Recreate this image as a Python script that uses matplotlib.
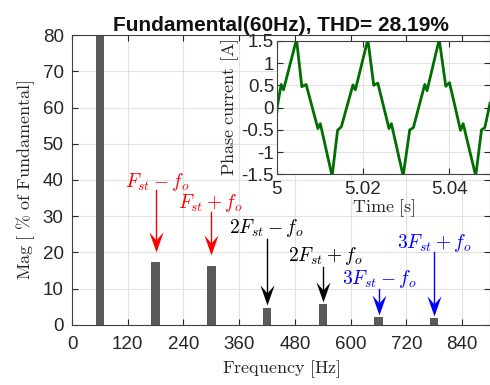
import matplotlib
matplotlib.use('Agg')
import matplotlib.pyplot as plt
from matplotlib.path import Path

plt.rcParams['mathtext.fontset'] = 'cm'
plt.rcParams['font.family'] = ['Liberation Sans', 'DejaVu Sans']
plt.rcParams['axes.unicode_minus'] = False

# ---- data ----
freqs = [60, 180, 300, 420, 540, 660, 780]
mags = [100, 17.5, 16.3, 4.8, 5.7, 2.1, 2.0]

x_ticks = [0, 120, 240, 360, 480, 600, 720, 840]
y_ticks = [0, 10, 20, 30, 40, 50, 60, 70, 80]

t_wave = [5.0000, 5.00010, 5.00100, 5.00155, 5.00437, 5.00451, 5.00465, 5.00580,
          5.00680, 5.00953, 5.01009, 5.01265, 5.01279, 5.01293, 5.01410, 5.01498,
          5.01767, 5.01823, 5.02095, 5.02109, 5.02123, 5.02250, 5.02345, 5.02605,
          5.02660, 5.02916, 5.02930, 5.02944, 5.03086, 5.03170, 5.03435, 5.03488,
          5.03753, 5.03767, 5.03781, 5.03923, 5.04010, 5.04265, 5.04326, 5.04600,
          5.04614, 5.04628, 5.04753, 5.04830, 5.04950]
i_wave = [-0.09, 0.02, 0.52, 0.40, 1.46, 1.50, 1.46, 0.47,
          0.52, -0.47, -0.36, -1.46, -1.50, -1.46, -0.51, -0.43,
          0.51, 0.40, 1.46, 1.50, 1.46, 0.50, 0.55, -0.47,
          -0.36, -1.46, -1.50, -1.46, -0.50, -0.45, 0.52, 0.38,
          1.46, 1.50, 1.46, 0.48, 0.56, -0.51, -0.36, -1.46,
          -1.50, -1.46, -0.50, -0.45, 0.10]

ann_labels = [r"$F_{st}-f_o$", r"$F_{st}+f_o$", r"$2F_{st}-f_o$",
              r"$2F_{st}+f_o$", r"$3F_{st}-f_o$", r"$3F_{st}+f_o$"]
ann_text_x = [183, 298, 419, 545, 662, 779]
ann_text_y = [39.4, 33.6, 26.7, 19.0, 12.6, 22.7]
ann_arrow_x = [180, 300, 420, 540, 660, 780]
ann_start_y = [37.2, 31.3, 23.6, 16.1, 9.8, 20.2]
ann_tip_y = [20.2, 19.3, 5.5, 6.4, 2.8, 2.6]
ann_colors = ['#ff0000', '#ff0000', '#000000', '#000000', '#0000ff', '#0000ff']

ink = '#262626'
grid_c = '#e2e2e2'
tick_fs = 13.5

fig = plt.figure(figsize=(4.9, 3.85), dpi=100)
ax = fig.add_axes([0.147, 0.156, 0.853, 0.753])
ax.bar(freqs, mags, width=18, color='#5a5a5a', zorder=2)
ax.set_xlim(0, 900)
ax.set_ylim(0, 80)
ax.set_xticks(x_ticks)
ax.set_yticks(y_ticks)
ax.set_axisbelow(True)
ax.grid(True, color=grid_c, lw=0.8)
ax.tick_params(direction='in', top=True, right=True, length=4, width=0.8,
               labelsize=tick_fs, colors=ink)
ax.tick_params(axis='y', pad=6)
ax.tick_params(axis='x', pad=8)
for s in ax.spines.values():
    s.set_color('#404040')
    s.set_linewidth(0.8)
ax.set_title("Fundamental(60Hz), THD= 28.19%", fontweight='bold',
             fontsize=15, color='#111111', pad=3)
ax.set_xlabel(r"$\mathrm{Frequency\ [Hz]}$", fontsize=13, color=ink, labelpad=4)
ax.set_ylabel(r"$\mathrm{Mag\ [\ \%\ of\ Fundamental]}$", fontsize=13, color=ink,
              labelpad=4)

head = Path([(0, 0), (-0.35, 1), (0, 0.6), (0.35, 1), (0, 0)],
            [Path.MOVETO, Path.LINETO, Path.LINETO, Path.LINETO, Path.CLOSEPOLY])
for lab, tx, ty, axx, sy, ty2, c in zip(ann_labels, ann_text_x, ann_text_y,
                                        ann_arrow_x, ann_start_y, ann_tip_y, ann_colors):
    ax.text(tx, ty, lab, color=c, fontsize=14, ha='center', va='center', zorder=4)
    ax.plot([axx, axx], [sy, ty2 + 2], color=c, lw=1.0, zorder=4)
    ax.plot([axx], [ty2], marker=head, markersize=29, color=c, markeredgewidth=0,
            zorder=5)

# ---- inset ----
axin = fig.add_axes([0.565, 0.547, 0.435, 0.347])
axin.plot(t_wave, i_wave, color='#006e00', lw=2.0)
axin.set_xlim(5, 5.0495)
axin.set_ylim(-1.5, 1.5)
axin.set_xticks([5, 5.02, 5.04])
axin.set_xticklabels(['5', '5.02', '5.04'])
axin.set_yticks([-1.5, -1, -0.5, 0, 0.5, 1, 1.5])
axin.set_yticklabels(['-1.5', '-1', '-0.5', '0', '0.5', '1', '1.5'])
axin.set_axisbelow(True)
axin.grid(True, color=grid_c, lw=0.8)
axin.tick_params(direction='in', top=True, right=True, length=4, width=0.8,
                 labelsize=tick_fs, colors=ink)
axin.tick_params(axis='y', pad=2)
axin.tick_params(axis='x', pad=5)
for s in axin.spines.values():
    s.set_color('#404040')
    s.set_linewidth(0.8)
axin.set_xlabel(r"$\mathrm{Time\ [s]}$", fontsize=13, color=ink, labelpad=-1)
axin.set_ylabel(r"$\mathrm{Phase\ current\ [A]}$", fontsize=13, color=ink, labelpad=0)

fig.savefig('out.png', dpi=100)
